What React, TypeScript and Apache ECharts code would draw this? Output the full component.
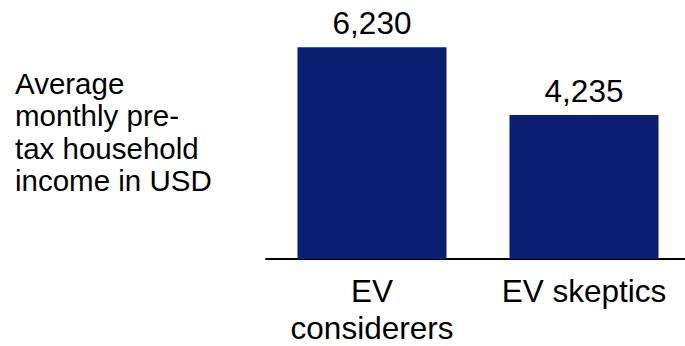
import React, { useEffect, useRef } from "react";
import * as echarts from "echarts";

const categories = ["EV\nconsiderers", "EV skeptics"];
const values = [6230, 4235];
const yAxisTitleLines = ["Average", "monthly pre-", "tax household", "income in USD"];

export default function App() {
  const ref = useRef<HTMLDivElement>(null);
  useEffect(() => {
    if (!ref.current) return;
    const chart = echarts.init(ref.current, null, { renderer: "svg" });
    chart.setOption({
      animation: false,
      textStyle: { fontFamily: "Liberation Sans, Arial, sans-serif" },
      grid: { left: 266, top: 21, right: 0, bottom: 84, containLabel: false },
      xAxis: {
        type: "category",
        data: categories,
        axisLine: { lineStyle: { color: "#000", width: 2 } },
        axisTick: { show: false },
        axisLabel: {
          color: "#000",
          fontSize: 31.5,
          lineHeight: 37,
          margin: 13,
          interval: 0,
          fontFamily: "Liberation Sans, Arial, sans-serif",
        },
      },
      yAxis: {
        type: "value",
        min: 0,
        max: 7000,
        show: false,
        splitLine: { show: false },
      },
      series: [
        {
          type: "bar",
          data: values,
          barWidth: 149,
          itemStyle: { color: "#0a1f72" },
          label: {
            show: true,
            position: "top",
            distance: 8,
            color: "#000",
            fontSize: 31.5,
            fontFamily: "Liberation Sans, Arial, sans-serif",
            formatter: (p: any) => Number(p.value).toLocaleString("en-US"),
          },
        },
      ],
      graphic: [
        {
          type: "text",
          left: 15,
          top: 67,
          style: {
            text: yAxisTitleLines.join("\n"),
            fontSize: 29.5,
            lineHeight: 32.5,
            fill: "#000",
            fontFamily: "Liberation Sans, Arial, sans-serif",
          },
        },
      ],
    });
    return () => chart.dispose();
  }, []);
  return (
    <div
      style={{ position: "fixed", left: 0, top: 0, width: 685, height: 346, overflow: "hidden", background: "#fff" }}
    >
      <div ref={ref} style={{ width: 690, height: 346 }} />
    </div>
  );
}
